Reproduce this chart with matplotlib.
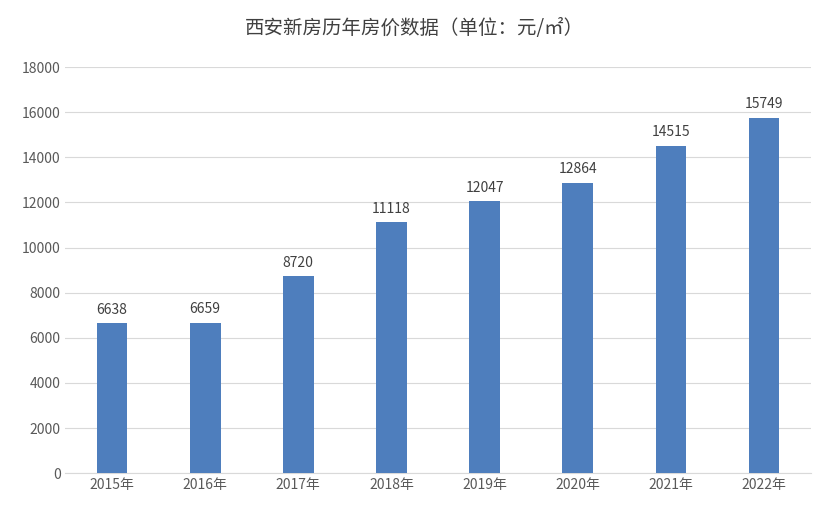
import matplotlib.pyplot as plt

plt.rcParams['font.family'] = ['Noto Sans CJK SC', 'DejaVu Sans']

years = ['2015年', '2016年', '2017年', '2018年', '2019年', '2020年', '2021年', '2022年']
prices = [6638, 6659, 8720, 11118, 12047, 12864, 14515, 15749]

fig = plt.figure(figsize=(8.28, 5.16), dpi=100)
ax = fig.add_axes([0.079, 0.083, 0.90, 0.787])

x = range(len(years))
bars = ax.bar(x, prices, width=0.33, color='#4e7ebd', zorder=3)
for xi, v in zip(x, prices):
    ax.text(xi, v + 300, str(v), ha='center', va='bottom', fontsize=10, color='#404040')

ax.set_xticks(list(x))
ax.set_xticklabels(years, fontsize=10, color='#595959')
ax.set_ylim(0, 18000)
ax.set_yticks(range(0, 18001, 2000))
ax.tick_params(axis='y', labelsize=10, labelcolor='#595959', length=0)
ax.tick_params(axis='x', length=0)
ax.set_xlim(-0.5, len(years) - 0.5)
ax.grid(axis='y', color='#d9d9d9', linewidth=0.8, zorder=0)
for s in ['top', 'right', 'left']:
    ax.spines[s].set_visible(False)
ax.spines['bottom'].set_color('#d9d9d9')

fig.suptitle('西安新房历年房价数据（单位：元/㎡）', y=0.965, fontsize=14, color='#404040')
fig.savefig('out.png', dpi=100)
